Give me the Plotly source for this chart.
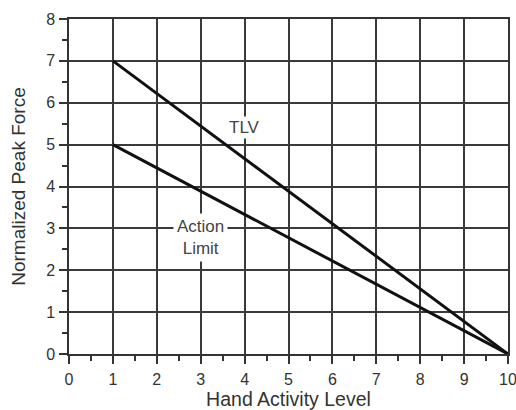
import plotly.graph_objects as go

hal = [1, 10]
tlv = [7, 0]
action_limit = [5, 0]

x_ticks = list(range(0, 11))
y_ticks = list(range(0, 9))

FONT = "Liberation Sans, Arial"

fig = go.Figure()
fig.add_trace(go.Scatter(x=hal, y=tlv, mode="lines", line=dict(color="#111111", width=3), name="TLV"))
fig.add_trace(go.Scatter(x=hal, y=action_limit, mode="lines", line=dict(color="#111111", width=3), name="Action Limit"))

fig.add_annotation(x=4.0, y=5.42, text="TLV", showarrow=False, bgcolor="white",
                   font=dict(family=FONT, size=17, color="#444444"), borderpad=1)
fig.add_annotation(x=3.0, y=2.78, text="Action<br>Limit", showarrow=False, bgcolor="white",
                   font=dict(family=FONT, size=17, color="#444444"), borderpad=3)

axis_common = dict(
    showgrid=True, gridcolor="#3a3a3a", gridwidth=1.5,
    showline=True, linecolor="#333333", linewidth=1.5, mirror=True,
    ticks="outside", ticklen=8, tickwidth=1.5, tickcolor="#333333",
    zeroline=False, automargin=False, ticklabeloverflow="allow",
    tickfont=dict(family=FONT, size=16, color="#333333"),
    minor=dict(dtick=0.5, ticks="outside", ticklen=5, tickwidth=1.5, tickcolor="#333333", showgrid=False),
)

fig.update_xaxes(range=[0, 10], tickvals=x_ticks, ticklabelstandoff=2,
                 title=dict(text="Hand Activity Level", standoff=2,
                            font=dict(family=FONT, size=19.5, color="#333333")),
                 **axis_common)
fig.update_yaxes(range=[0, 8], tickvals=y_ticks, ticklabelstandoff=1,
                 title=dict(text="Normalized Peak Force", font=dict(family=FONT, size=19, color="#333333")),
                 **axis_common)

fig.update_layout(
    width=516, height=410,
    margin=dict(l=69, r=8, t=19, b=56),
    paper_bgcolor="white", plot_bgcolor="white",
    showlegend=False,
)

# remove the default 8px page margin so the figure fills the window exactly
fig.write_html("out.html",
               config={"displayModeBar": False},
               post_script="document.body.style.margin='0';document.body.style.overflow='hidden';")
